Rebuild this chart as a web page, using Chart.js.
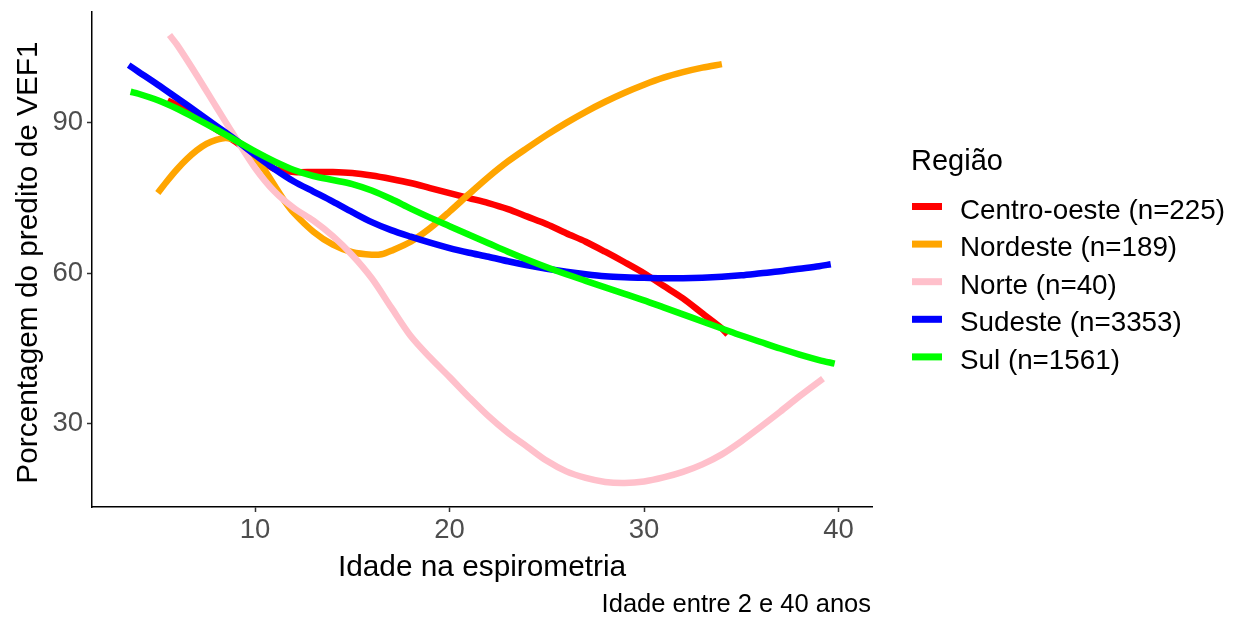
<!DOCTYPE html>
<html>
<head>
<meta charset="utf-8">
<script src="https://cdn.jsdelivr.net/npm/chart.js@4"></script>
<style>
  body { margin: 0; background: #fff; }
  canvas { display: block; }
</style>
</head>
<body>
<canvas id="grafico" width="1233" height="617"></canvas>
<script>
// dados (curvas suavizadas por região)
const regioes = ['Centro-oeste (n=225)', 'Nordeste (n=189)', 'Norte (n=40)', 'Sudeste (n=3353)', 'Sul (n=1561)'];
const cores = ['#FF0000', '#FFA500', '#FFC0CB', '#0000FF', '#00FF00'];

const idadeCentroOeste = [5.5, 6, 7, 8, 9, 10, 11, 12, 13, 14, 15, 16, 17, 18, 19, 20, 21, 22, 23, 24, 25, 26, 27, 28, 29, 30, 31, 32, 33, 34, 34.3];
const vef1CentroOeste = [94.5, 93.5, 91.3, 88.7, 86.2, 83.3, 80.8, 80.2, 80.2, 80.2, 80, 79.5, 78.8, 78, 77, 76, 75, 74, 72.8, 71.3, 69.8, 68, 66.3, 64.3, 62.2, 60, 57.5, 55, 52, 49, 47.8];

const idadeNordeste = [5, 5.5, 6, 6.5, 7, 7.5, 8, 8.5, 9, 9.5, 10, 10.5, 11, 11.5, 12, 13, 14, 15, 16, 16.5, 17, 18, 19, 20, 21, 22, 23, 24, 25, 26, 27, 28, 29, 30, 31, 32, 33, 34];
const vef1Nordeste = [76, 78.5, 80.8, 82.8, 84.5, 85.8, 86.6, 87, 86.5, 85, 83, 80.5, 77.5, 74.5, 72, 68.3, 65.7, 64.2, 63.7, 63.8, 64.5, 66.3, 69, 72.3, 75.8, 79.2, 82.3, 85, 87.6, 90, 92.2, 94.2, 96, 97.6, 99, 100.1, 101, 101.7];

const idadeNorte = [5.6, 6, 7, 8, 9, 10, 11, 12, 13, 14, 15, 16, 17, 18, 19, 20, 21, 22, 23, 24, 25, 26, 27, 28, 29, 30, 31, 32, 33, 34, 35, 36, 37, 38, 39.2];
const vef1Norte = [107.5, 105.5, 99.5, 93.2, 87, 81, 76.3, 73, 70.5, 67.4, 63.6, 59, 53.2, 47.5, 43.2, 39.3, 35.3, 31.5, 28.2, 25.4, 22.6, 20.5, 19.2, 18.4, 18.2, 18.5, 19.3, 20.4, 21.9, 23.9, 26.5, 29.4, 32.4, 35.5, 39];

const idadeSudeste = [3.5, 4, 5, 6, 7, 8, 9, 10, 11, 12, 13, 14, 15, 16, 17, 18, 19, 20, 21, 22, 23, 24, 25, 26, 27, 28, 29, 30, 31, 32, 33, 34, 35, 36, 37, 38, 39, 39.6];
const vef1Sudeste = [101.5, 100.2, 97.6, 94.9, 92.2, 89.4, 86.6, 83.6, 80.8, 78.3, 76.3, 74.3, 72.2, 70.2, 68.6, 67.3, 66.1, 65, 64.1, 63.3, 62.4, 61.6, 60.9, 60.3, 59.8, 59.4, 59.2, 59.1, 59, 59, 59.1, 59.3, 59.6, 60, 60.4, 60.9, 61.4, 61.8];

const idadeSul = [3.6, 4, 5, 6, 7, 8, 9, 10, 11, 12, 13, 14, 15, 16, 17, 18, 19, 20, 21, 22, 23, 24, 25, 26, 27, 28, 29, 30, 31, 32, 33, 34, 35, 36, 37, 38, 39, 39.8];
const vef1Sul = [96.2, 95.8, 94.5, 92.8, 90.8, 88.7, 86.5, 84.3, 82.3, 80.6, 79.4, 78.6, 77.8, 76.5, 74.8, 72.9, 71.1, 69.4, 67.7, 66, 64.3, 62.7, 61.2, 59.8, 58.5, 57.2, 55.9, 54.6, 53.2, 51.8, 50.4, 49, 47.6, 46.3, 45, 43.8, 42.7, 42];

const ticksX = [10, 20, 30, 40];
const ticksY = [30, 60, 90];

const idades = [idadeCentroOeste, idadeNordeste, idadeNorte, idadeSudeste, idadeSul];
const valores = [vef1CentroOeste, vef1Nordeste, vef1Norte, vef1Sudeste, vef1Sul];

const fonte = '"Liberation Sans", Arial, sans-serif';

const datasets = regioes.map((nome, i) => ({
  label: nome,
  data: idades[i].map((x, j) => ({ x: x, y: valores[i][j] })),
  borderColor: cores[i],
  backgroundColor: cores[i],
  borderWidth: 6.5,
  borderCapStyle: 'butt',
  borderJoinStyle: 'round',
  showLine: true,
  pointRadius: 0,
  tension: 0.3,
  order: regioes.length - i // Sul por cima, como no ggplot
}));

// textos e legenda desenhados à mão
const textos = {
  id: 'textos',
  afterDraw(chart) {
    const ctx = chart.ctx;
    const area = chart.chartArea;
    ctx.save();
    ctx.fillStyle = '#000';
    ctx.font = '29.8px ' + fonte;
    ctx.textAlign = 'center';
    ctx.textBaseline = 'alphabetic';
    ctx.fillText('Idade na espirometria', (area.left + area.right) / 2, 576);

    ctx.save();
    ctx.translate(37, (area.top + area.bottom) / 2 + 3);
    ctx.rotate(-Math.PI / 2);
    ctx.fillText('Porcentagem do predito de VEF1', 0, 0);
    ctx.restore();

    ctx.font = '25.5px ' + fonte;
    ctx.textAlign = 'right';
    ctx.fillText('Idade entre 2 e 40 anos', area.right - 1, 612);

    // legenda
    ctx.textAlign = 'left';
    ctx.font = '29px ' + fonte;
    ctx.fillText('Região', 911, 170);
    ctx.font = '27.8px ' + fonte;
    chart.data.datasets.forEach((ds, i) => {
      const yc = 206.5 + i * 37.6;
      ctx.fillStyle = ds.borderColor;
      ctx.fillRect(912, yc - 3.5, 30, 7);
      ctx.fillStyle = '#000';
      ctx.fillText(ds.label, 960, yc + 12);
    });
    ctx.restore();
  }
};

new Chart(document.getElementById('grafico'), {
  type: 'scatter',
  data: { datasets: datasets },
  options: {
    responsive: false,
    animation: false,
    layout: { padding: { top: 12, right: 361, bottom: 0, left: 0 } },
    plugins: {
      legend: { display: false },
      tooltip: { enabled: false }
    },
    scales: {
      x: {
        type: 'linear',
        min: 1.615,
        max: 41.72,
        afterBuildTicks: (s) => { s.ticks = ticksX.map(v => ({ value: v })); },
        afterFit: (s) => { s.height = 110; s.paddingLeft = 0; s.paddingRight = 0; },
        border: { display: true, color: '#000', width: 1.5 },
        grid: { drawOnChartArea: false, drawTicks: true, tickLength: 5, tickColor: '#333', tickWidth: 1.5 },
        ticks: { color: '#4D4D4D', font: { family: fonte, size: 27.5 }, padding: 2, maxRotation: 0 }
      },
      y: {
        type: 'linear',
        min: 13.4,
        max: 112.1,
        afterBuildTicks: (s) => { s.ticks = ticksY.map(v => ({ value: v })); },
        afterFit: (s) => { s.width = 92; s.paddingTop = 0; s.paddingBottom = 0; },
        border: { display: true, color: '#000', width: 1.5 },
        grid: { drawOnChartArea: false, drawTicks: true, tickLength: 5, tickColor: '#333', tickWidth: 1.5 },
        ticks: { color: '#4D4D4D', font: { family: fonte, size: 27.5 }, padding: 4 }
      }
    }
  },
  plugins: [textos]
});
</script>
</body>
</html>
